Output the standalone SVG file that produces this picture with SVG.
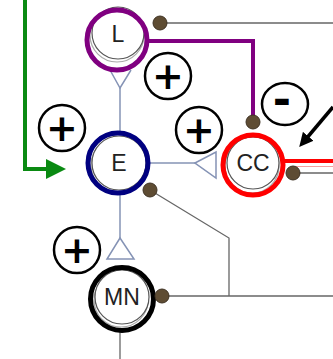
<svg xmlns="http://www.w3.org/2000/svg" width="333" height="359" viewBox="0 0 333 359">
<style>
.ln{stroke:#666;stroke-width:1.3;fill:none}
.bl{stroke:#8593b5;stroke-width:1.5;fill:none}
.dot{fill:#5e4c33;stroke:#3f3324;stroke-width:1}
.inner{fill:#fff;stroke:#555;stroke-width:1.2}
.sh{fill:none;stroke:#aaa;stroke-width:1.2}
.sign{fill:#fff;stroke:#000;stroke-width:2.5}
.st{font-family:"DejaVu Sans",sans-serif;font-weight:bold;font-size:38px;text-anchor:middle;fill:#000}
.lab{font-family:"Liberation Sans",Arial,sans-serif;font-size:23px;text-anchor:middle;fill:#222}
</style>
<defs>
<marker id="ga" markerWidth="5" markerHeight="5" refX="1" refY="2.5" orient="auto" markerUnits="strokeWidth"><path d="M0,0 L5,2.5 L0,5 Z" fill="#0a8a12"/></marker>
<marker id="ka" markerWidth="4" markerHeight="4" refX="1" refY="2" orient="auto" markerUnits="strokeWidth"><path d="M0,0 L4,2 L0,4 Z" fill="#000"/></marker>
</defs>
<g id="connectors">
<line class="ln" x1="160" y1="23" x2="333" y2="23"/>
<polyline points="146,41 253,41 253,120" fill="none" stroke="#800080" stroke-width="4"/>
<polyline class="bl" points="110,70 120,88 131,70"/>
<line class="bl" x1="120" y1="88" x2="120" y2="133"/>
<line class="bl" x1="120" y1="194" x2="120" y2="238"/>
<line class="bl" x1="149" y1="163" x2="195" y2="163"/>
<polygon points="195,163 216,152 216,178" fill="#fff" stroke="#8593b5" stroke-width="1.5"/>
<polygon points="120,238 107,259 134,259" fill="#fff" stroke="#8593b5" stroke-width="1.5"/>
<polyline class="ln" points="150,190 229,238 229,296"/>
<line class="ln" x1="162" y1="296" x2="333" y2="296"/>
<line class="ln" x1="120" y1="330" x2="120" y2="359"/>
<line x1="284" y1="161" x2="333" y2="161" stroke="#f00" stroke-width="4"/>
<line x1="290" y1="166.5" x2="333" y2="166.5" stroke="#f4a0a0" stroke-width="1"/>
<line class="ln" x1="293" y1="173" x2="333" y2="173"/>
<polyline points="25,0 25,169 50,169" fill="none" stroke="#0a8a12" stroke-width="4" marker-end="url(#ga)"/>
<line x1="333" y1="107" x2="306" y2="139" stroke="#000" stroke-width="3.5" marker-end="url(#ka)"/>
</g>
<g id="L">
<circle class="sh" cx="117" cy="35" r="27"/>
<circle class="inner" cx="118" cy="33" r="26"/>
<circle cx="117" cy="40" r="30" fill="none" stroke="#800080" stroke-width="5"/>
<text class="lab" x="118" y="42">L</text>
</g>
<g id="E">
<circle class="sh" cx="118" cy="165" r="27"/>
<circle class="inner" cx="119" cy="163" r="27"/>
<circle cx="118" cy="163" r="30" fill="none" stroke="#000080" stroke-width="5"/>
<text class="lab" x="119" y="171">E</text>
</g>
<g id="CC">
<circle class="sh" cx="252" cy="166" r="27"/>
<circle class="inner" cx="253" cy="163" r="26"/>
<circle cx="253" cy="165" r="30" fill="none" stroke="#f00" stroke-width="5"/>
<text class="lab" x="253" y="171">CC</text>
</g>
<g id="MN">
<circle class="sh" cx="121" cy="300" r="27"/>
<circle class="inner" cx="122" cy="297" r="27"/>
<circle cx="122" cy="299" r="31.5" fill="none" stroke="#000" stroke-width="5"/>
<text class="lab" x="122" y="305">MN</text>
</g>
<g id="dots">
<circle class="dot" cx="160" cy="23" r="7"/>
<circle class="dot" cx="253" cy="122" r="7"/>
<circle class="dot" cx="150" cy="190" r="7"/>
<circle class="dot" cx="293" cy="173" r="7"/>
<circle class="dot" cx="162" cy="296" r="7"/>
</g>
<g id="signs">
<circle class="sign" cx="168" cy="76" r="23"/>
<text class="st" x="168" y="89">+</text>
<circle class="sign" cx="62" cy="128" r="23"/>
<text class="st" x="62" y="141">+</text>
<circle class="sign" cx="199" cy="130" r="23"/>
<text class="st" x="199" y="143">+</text>
<circle class="sign" cx="77" cy="250" r="23"/>
<text class="st" x="77" y="263">+</text>
<ellipse class="sign" cx="285" cy="104" rx="23" ry="21"/>
<text class="st" x="282" y="115" style="font-size:44px">-</text>
</g>
</svg>
